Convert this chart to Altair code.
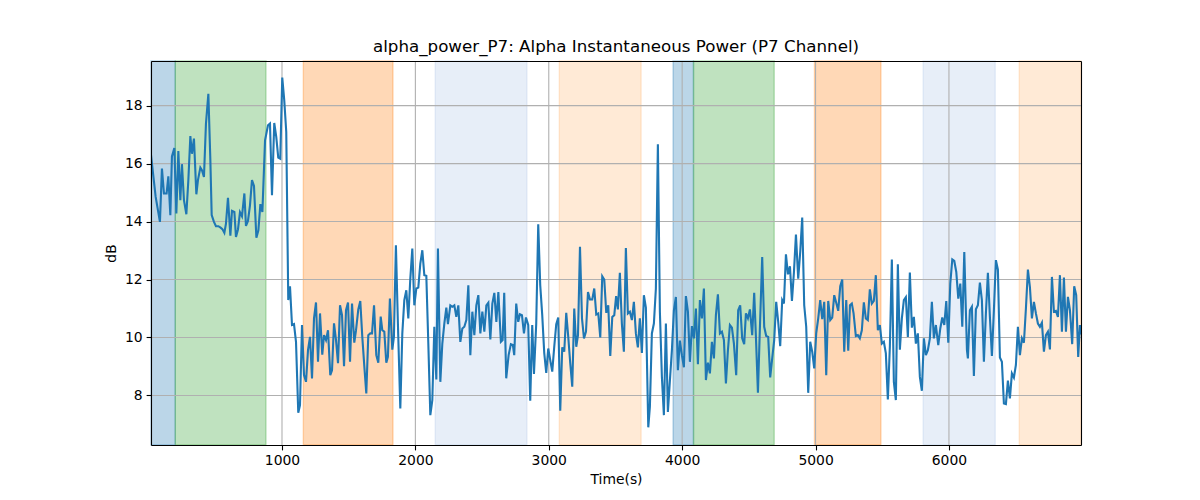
import altair as alt
import pandas as pd

# ---- data ----
time_s = [
    18, 53, 85, 100, 115, 135, 148, 163, 175, 193, 208, 223, 238, 250, 265, 283, 298, 313, 325, 340,
    358, 370, 388, 400, 415, 430, 448, 463, 473, 490, 505, 523, 540, 553, 568, 580, 595, 613, 625, 643,
    655, 670, 685, 700, 718, 730, 745, 760, 775, 790, 808, 823, 838, 853, 873,
    895, 910, 925, 942, 957, 972, 987, 1002, 1017, 1032, 1047, 1060, 1075, 1090, 1105, 1122, 1135, 1150,
    1165, 1180, 1195, 1210, 1225, 1240, 1255, 1270, 1285, 1302, 1315, 1330, 1345, 1362, 1375, 1390, 1405,
    1420, 1435, 1450, 1465, 1480, 1495, 1510, 1525, 1542, 1555, 1572, 1587, 1602, 1617, 1632, 1647, 1662,
    1675, 1690, 1707, 1722, 1740,
    1752, 1767, 1782, 1794, 1809, 1827, 1839, 1854, 1869, 1887, 1902, 1917, 1932, 1947, 1962, 1977, 1992,
    2007, 2022, 2037, 2052, 2067, 2082, 2097, 2112, 2127, 2142, 2157, 2169, 2187, 2202, 2217, 2232, 2244,
    2262, 2277, 2292, 2307, 2322, 2337, 2352, 2367, 2382, 2397, 2412, 2427, 2442, 2457, 2472, 2487, 2502,
    2517, 2532, 2547, 2562, 2577, 2592, 2607, 2622,
    2641, 2654, 2666, 2681, 2699, 2716, 2731, 2741, 2756, 2771, 2784, 2799, 2814, 2829, 2846, 2861, 2876,
    2889, 2906, 2921, 2936, 2951, 2966, 2981, 2996, 3011, 3026, 3041, 3056, 3071, 3086, 3101, 3116, 3131,
    3146, 3161, 3176, 3191, 3206, 3219, 3234, 3249, 3264, 3279, 3294, 3309, 3326, 3341, 3356, 3371, 3386,
    3401, 3416, 3431, 3446, 3461, 3476, 3491, 3505,
    3518, 3533, 3548, 3563, 3578, 3593, 3608, 3623, 3638, 3653, 3668, 3683, 3698, 3713, 3728, 3746, 3758,
    3773, 3788, 3803, 3818, 3833, 3848, 3863, 3878, 3893, 3908, 3923, 3938, 3953, 3968, 3983, 3998, 4013,
    4028, 4043, 4058, 4073, 4088, 4103, 4118, 4133, 4148, 4163, 4178, 4193, 4208, 4223, 4238, 4253, 4268,
    4283, 4298, 4313, 4328, 4343, 4358, 4373,
    4388, 4405, 4420, 4435, 4450, 4465, 4478, 4493, 4508, 4525, 4540, 4553, 4568, 4583, 4600, 4615, 4630,
    4645, 4660, 4675, 4690, 4705, 4720, 4735, 4750, 4763, 4778, 4793, 4808, 4823, 4838, 4853, 4870, 4885,
    4900, 4915, 4930, 4945, 4960, 4975, 4990, 5005, 5020, 5035, 5050, 5065, 5080, 5095, 5110, 5125, 5140,
    5155, 5170, 5185, 5200, 5215, 5230, 5245, 5258,
    5272, 5285, 5302, 5317, 5332, 5347, 5362, 5377, 5392, 5407, 5422, 5437, 5452, 5467, 5482, 5497, 5512,
    5527, 5542, 5557, 5572, 5587, 5602, 5617, 5632, 5647, 5662, 5677, 5692, 5707, 5722, 5737, 5752, 5767,
    5782, 5797, 5812, 5827, 5842, 5857, 5872, 5887, 5902, 5920, 5935, 5950, 5965, 5980, 5995, 6010, 6025,
    6040, 6055, 6070, 6085, 6100, 6115, 6135,
    6142, 6157, 6172, 6187, 6202, 6217, 6232, 6247, 6262, 6277, 6292, 6307, 6322, 6337, 6352, 6367, 6382,
    6397, 6412, 6427, 6442, 6457, 6472, 6487, 6502, 6517, 6532, 6547, 6562, 6577, 6592, 6607, 6622, 6637,
    6652, 6667, 6682, 6697, 6712, 6727, 6742, 6757, 6772, 6787, 6802, 6817, 6832, 6847, 6862, 6877, 6892,
    6907, 6924, 6939, 6954, 6969, 6982, 6990,
]

power_db = [
    16.29, 14.85, 13.99, 15.83, 14.97, 14.97, 15.56, 14.22, 16.25, 16.54, 14.28, 16.43, 14.74, 15.98, 14.74,
    14.25, 15.43, 16.95, 16.34, 16.86, 14.94, 15.43, 15.86, 15.77, 15.54, 17.38, 18.41, 16.11, 14.22, 13.99,
    13.84, 13.84, 13.79, 13.74, 13.61, 13.93, 14.82, 13.51, 14.37, 14.33, 13.47, 13.72, 14.32, 14.18, 14.97,
    13.85, 14.02, 14.56, 15.43, 15.23, 13.44, 13.70, 14.60, 14.33, 16.80,
    17.32, 17.38, 14.91, 17.40, 16.92, 16.21, 16.17, 18.97, 18.18, 17.09, 11.29, 11.77, 10.43, 10.46, 9.85,
    7.40, 7.67, 10.43, 8.70, 8.47, 9.56, 10.02, 8.59, 10.66, 11.21, 9.16, 10.83, 9.41, 10.08, 9.91, 10.25,
    8.70, 8.87, 10.49, 9.91, 9.11, 11.11, 10.77, 9.01, 10.94, 11.21, 9.16, 11.17, 9.82, 10.25, 10.97, 11.26,
    10.02, 9.02, 8.07, 10.08, 10.14, 10.14, 11.11, 9.39, 9.13, 10.72,
    10.25, 10.20, 9.13, 9.33, 11.34, 9.58, 10.02, 13.18, 10.48, 7.55, 10.14, 11.29, 11.63, 10.66, 12.03,
    13.07, 11.11, 11.69, 11.72, 12.55, 13.01, 12.15, 12.13, 9.79, 7.32, 7.84, 10.37, 8.55, 13.07, 8.47,
    9.79, 10.48, 11.03, 10.46, 11.11, 11.06, 11.11, 10.71, 11.11, 9.85, 10.31, 10.37, 10.60, 11.80, 9.39,
    10.89, 10.08, 11.11, 11.46, 10.14, 10.89, 10.20, 11.11, 11.20, 9.93, 11.17, 11.54, 10.54, 11.57,
    9.85, 9.91, 11.54, 8.59, 9.39, 9.77, 9.74, 9.39, 11.17, 10.54, 10.80, 10.77, 10.14, 10.69, 10.43, 7.82,
    10.43, 8.74, 10.48, 13.91, 11.80, 10.77, 9.47, 8.78, 9.62, 9.22, 8.82, 9.68, 10.46, 10.69, 7.47, 9.66,
    9.51, 10.85, 10.02, 9.11, 8.30, 11.00, 9.68, 10.08, 13.13, 10.66, 9.97, 10.20, 11.57, 11.31, 11.31,
    11.69, 10.79, 10.83, 10.00, 12.11, 12.00, 10.85, 11.11, 9.36, 10.71, 10.77, 11.43,
    10.97, 12.23, 10.48, 9.51, 13.09, 10.83, 10.89, 10.60, 11.23, 10.14, 9.66, 10.66, 9.47, 11.46, 11.03,
    6.90, 7.61, 10.14, 10.48, 11.69, 16.67, 10.89, 8.64, 7.32, 10.48, 7.43, 8.51, 9.56, 10.94, 11.40, 8.87,
    9.89, 9.39, 8.97, 11.43, 10.89, 9.16, 10.39, 9.97, 11.00, 9.08, 11.29, 10.66, 11.69, 8.53, 9.13, 8.76,
    9.85, 9.28, 10.77, 11.49, 10.14, 10.20, 9.91, 8.41, 9.56, 10.43, 10.34,
    9.79, 8.70, 10.94, 11.11, 9.97, 9.77, 10.83, 10.66, 10.97, 10.08, 11.54, 10.02, 8.09, 10.37, 12.78,
    10.37, 10.05, 10.02, 8.62, 9.28, 9.91, 11.23, 10.54, 9.70, 11.29, 11.17, 12.87, 12.18, 12.46, 11.26,
    12.26, 13.55, 12.03, 12.95, 14.14, 11.11, 10.37, 8.09, 9.85, 9.51, 8.93, 10.14, 10.66, 11.29, 10.63,
    11.23, 8.70, 11.26, 10.60, 10.69, 11.46, 11.20, 10.92, 11.77, 12.00, 9.51, 11.29, 9.54, 11.11,
    11.17, 10.83, 10.05, 10.08, 9.97, 10.25, 11.21, 10.66, 10.60, 11.66, 11.17, 11.26, 12.15, 10.25, 10.43,
    9.79, 9.85, 9.45, 7.86, 9.68, 12.69, 8.47, 7.84, 12.53, 9.58, 10.66, 11.29, 11.39, 10.02, 12.24, 10.34,
    10.71, 9.79, 10.14, 8.64, 8.16, 9.97, 9.39, 9.56, 9.97, 11.23, 9.97, 10.43, 9.74, 10.31, 10.69, 10.43,
    11.26, 9.82, 11.86, 12.69, 12.64, 12.26, 11.34, 11.86, 10.37, 12.95, 9.56,
    9.28, 10.94, 11.06, 8.67, 10.97, 11.11, 11.89, 11.29, 9.16, 10.83, 12.23, 10.71, 9.36, 10.94, 12.67,
    12.34, 9.31, 9.16, 7.72, 7.70, 8.51, 7.90, 8.76, 8.62, 9.05, 10.37, 9.39, 9.97, 9.82, 11.00, 12.34,
    11.74, 10.66, 11.23, 10.83, 10.48, 10.37, 10.51, 9.51, 10.08, 10.20, 9.59, 12.09, 10.89, 10.92, 10.71,
    12.15, 10.20, 12.07, 10.20, 11.40, 10.94, 9.77, 11.77, 11.46, 9.33, 10.43, 10.10,
]

region_start = [18, 200, 1160, 2149, 3079, 3932, 4085, 4992, 5807, 6527]
region_end = [200, 880, 1832, 2836, 3692, 4085, 4690, 5490, 6347, 6990]
region_kind = ["blue", "green", "orange", "lightblue", "lightorange",
               "blue", "green", "orange", "lightblue", "lightorange"]

kind_names = ["blue", "green", "orange", "lightblue", "lightorange"]
kind_colors = ["#1f77b4", "#2ca02c", "#ff7f0e", "#aec7e8", "#ffbb78"]

x_ticks = [1000, 2000, 3000, 4000, 5000, 6000]
y_ticks = [8, 10, 12, 14, 16, 18]

x_domain = [18, 6990]
y_domain = [6.29, 19.54]

n = min(len(time_s), len(power_db))
line_df = pd.DataFrame({"t": time_s[:n], "v": power_db[:n]})
reg_df = pd.DataFrame({"s": region_start, "e": region_end, "k": region_kind})
xg_df = pd.DataFrame({"t": x_ticks})
yg_df = pd.DataFrame({"v": y_ticks})

FONT = "DejaVu Sans"
xscale = alt.Scale(domain=x_domain, nice=False, zero=False)
yscale = alt.Scale(domain=y_domain, nice=False, zero=False)

regions = alt.Chart(reg_df).mark_rect(
    fillOpacity=0.3, strokeOpacity=0.3, strokeWidth=1.4
).encode(
    x=alt.X("s:Q", scale=xscale, axis=None),
    x2="e:Q",
    color=alt.Color("k:N", scale=alt.Scale(domain=kind_names, range=kind_colors), legend=None),
    stroke=alt.Stroke("k:N", scale=alt.Scale(domain=kind_names, range=kind_colors), legend=None),
)

frame_axis = dict(labels=False, ticks=False, grid=False, domain=True,
                  domainColor="black", domainWidth=1.1, zindex=1, title=None)

xgrid = alt.Chart(xg_df).mark_rule(color="#b0b0b0", strokeWidth=1.1).encode(
    x=alt.X("t:Q", scale=xscale, axis=alt.Axis(orient="top", **frame_axis)),
)
ygrid = alt.Chart(yg_df).mark_rule(color="#b0b0b0", strokeWidth=1.1).encode(
    y=alt.Y("v:Q", scale=yscale, axis=alt.Axis(orient="right", **frame_axis)),
)

main_axis = dict(grid=False, domain=True, domainColor="black", domainWidth=1.1,
                 ticks=True, tickColor="black", tickWidth=1.1, tickSize=4.9,
                 labelPadding=4, labelFont=FONT, labelFontSize=13.9, labelColor="black",
                 titleFont=FONT, titleFontSize=13.9, titleFontWeight="normal",
                 titleColor="black", zindex=1)

line = alt.Chart(line_df).mark_line(color="#1f77b4", strokeWidth=2.1, clip=True).encode(
    x=alt.X("t:Q", scale=xscale,
            axis=alt.Axis(orient="bottom", values=x_ticks, format="d", title="Time(s)",
                          titlePadding=5, **main_axis)),
    y=alt.Y("v:Q", scale=yscale,
            axis=alt.Axis(orient="left", values=y_ticks, format="d", title="dB",
                          titlePadding=6, **main_axis)),
)

chart = alt.layer(regions, xgrid, ygrid, line).resolve_axis(
    x="independent", y="independent"
).resolve_scale(color="independent", stroke="independent").properties(
    width=930,
    height=384,
    title=alt.TitleParams(
        "alpha_power_P7: Alpha Instantaneous Power (P7 Channel)",
        font=FONT, fontSize=16.7, fontWeight="normal", color="black",
        anchor="middle", offset=5,
    ),
    autosize=alt.AutoSizeParams(type="none"),
    padding={"left": 143, "top": 53, "right": 100, "bottom": 50},
).configure_view(stroke="transparent")

chart.save("out.html", embed_options={"renderer": "svg", "actions": False})
